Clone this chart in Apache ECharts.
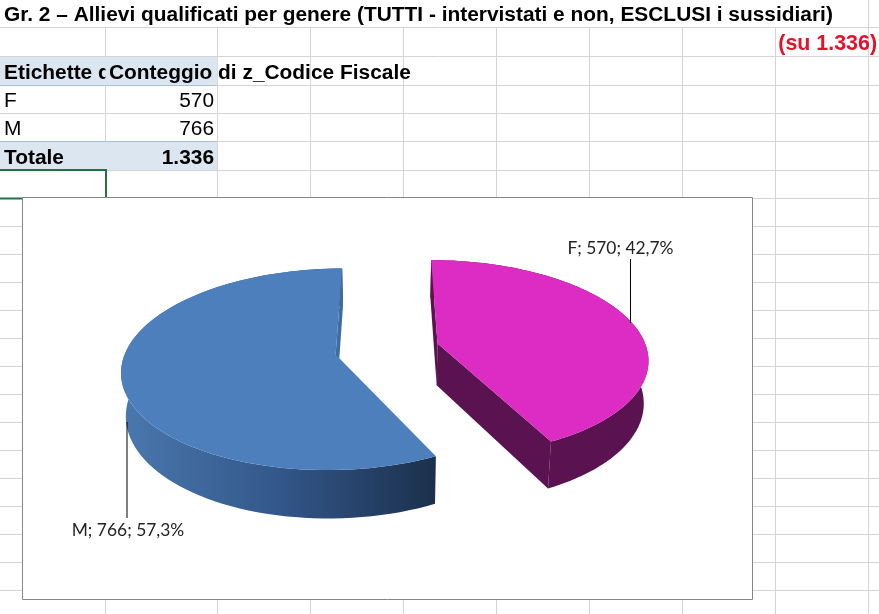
<!DOCTYPE html>
<html><head><meta charset="utf-8">
<script src="https://cdn.jsdelivr.net/npm/echarts@6/dist/echarts.min.js"></script>
<style>html,body{margin:0;padding:0;background:#fff}#c{width:879px;height:614px}</style>
</head><body><div id="c"></div>
<script>
var categories = ['F', 'M'];
var counts = [570, 766];
var percentLabels = ['42,7%', '57,3%'];
var totalLabel = '1.336';
var titleText = 'Gr. 2 – Allievi qualificati per genere (TUTTI - intervistati e non, ESCLUSI i sussidiari)';
var noteText = '(su 1.336)';
var headerA = 'Etichette di riga';
var headerB = 'Conteggio di z_Codice Fiscale';
var totalName = 'Totale';

var total = counts.reduce(function (a, b) { return a + b; }, 0);
var chart = echarts.init(document.getElementById('c'), null, { renderer: 'canvas', width: 879, height: 614 });

/* perspective of the pie plane */
var P = { xc: 387, yc: 349, a: 209.3, b: 97, p: 0.145, e: 0.25, sx: 0.982, sy: 1.0526, d: 42 };
function project(u, v, bottom) {
  var w = 1 + P.p * v;
  return bottom
    ? [P.xc + P.a * P.sx * u / w, P.yc + P.d - P.b * P.sy * v / w]
    : [P.xc + P.a * u / w, P.yc - P.b * v / w];
}
function unit(deg) { var r = deg * Math.PI / 180; return [Math.sin(r), Math.cos(r)]; }

var sliceStyle = {
  F: { top: '#DC2CC4', wall: '#5A1250', edge: '#5A1250' },
  M: { top: '#4C7FBB', edge: '#3E6CA3',
       wall: new echarts.graphic.LinearGradient(0, 0, 1, 0, [
         { offset: 0, color: '#4A78AE' }, { offset: 0.5, color: '#33578A' }, { offset: 1, color: '#1B304C' }]) }
};
var labelPlace = {
  F: { x: 620.5, y: 248, line: [630.5, 259, 630.5, 323] },
  M: { x: 128, y: 530, line: [127, 422, 127, 518] }
};
var order = ['M', 'F'];

function renderSlice(params, api) {
  var i = params.dataIndex;
  var name = order[i];
  var idx = categories.indexOf(name);
  var from = 0, span = 360 * api.value(0) / total;
  if (name === 'M') from = 360 * counts[categories.indexOf('F')] / total;
  var mid = unit(from + span / 2);
  var ou = P.e * mid[0], ov = P.e * mid[1];
  var top = [], bot = [], n = 90;
  for (var k = 0; k <= n; k++) {
    var d = unit(from + span * k / n);
    top.push(project(ou + d[0], ov + d[1], false));
    bot.push(project(ou + d[0], ov + d[1], true));
  }
  var at = project(ou, ov, false), ab = project(ou, ov, true);
  var st = sliceStyle[name], kids = [];
  var pl = labelPlace[name];
  kids.push({ type: 'polygon', shape: { points: top.concat(bot.slice().reverse()) }, style: { fill: st.wall } });
  if (name === 'F') {
    kids.push({ type: 'polygon', shape: { points: [at, top[n], bot[n], ab] }, style: { fill: st.wall } });
    kids.push({ type: 'polygon', shape: { points: [at, top[0], bot[0], ab] }, style: { fill: st.wall } });
  } else {
    kids.push({ type: 'polygon', shape: { points: [at, top[n], bot[n], ab] }, style: { fill: st.edge } });
  }
  kids.push({ type: 'polygon', shape: { points: [at].concat(top) }, style: { fill: st.top } });
  kids.push({ type: 'line', shape: { x1: pl.line[0], y1: pl.line[1], x2: pl.line[2], y2: pl.line[3] }, style: { stroke: '#000', lineWidth: 1 } });
  kids.push({ type: 'text', style: { text: name + '; ' + api.value(0) + '; ' + percentLabels[idx], x: pl.x, y: pl.y,
    font: '17.4px Lato', fill: '#222', textAlign: 'center', textVerticalAlign: 'middle' } });
  return { type: 'group', children: kids };
}

/* spreadsheet behind the chart */
var gridColor = '#D4D4D4';
var colX = [105.5, 217.5, 310.5, 403.5, 496.5, 589.5, 682.5, 775.5, 868.5];
var rowY = [27.5, 56.5, 85.5, 113.5, 141.5, 170.5, 198.5, 226.5, 254.5, 282.5, 310.5, 338.5, 366.5, 394.5, 422.5, 450.5, 478.5, 506.5, 534.5, 562.5, 590.5];
var g = [];
function ln(x1, y1, x2, y2, c, w, z) { g.push({ type: 'line', z: z || 1, silent: true, shape: { x1: x1, y1: y1, x2: x2, y2: y2 }, style: { stroke: c, lineWidth: w || 1 } }); }
function rc(x, y, w, h, c, z, stroke) { g.push({ type: 'rect', z: z, silent: true, shape: { x: x, y: y, width: w, height: h }, style: { fill: c, stroke: stroke || null, lineWidth: 1 } }); }
function tx(s, x, y, font, fill, align, z) { g.push({ type: 'text', z: z || 6, silent: true, style: { text: s, x: x, y: y, font: font, fill: fill, textAlign: align || 'left', textVerticalAlign: 'middle' } }); }

colX.forEach(function (x) { ln(x, x === 868.5 ? 0 : 27.5, x, 614, gridColor); });
rowY.forEach(function (y) { ln(0, y, 879, y, gridColor); });
rc(0, 57, 217, 28, '#DCE6F1', 2);
rc(0, 142, 217, 28, '#DCE6F1', 2);
ln(0, 85.5, 217, 85.5, '#A9C0DC', 1, 3);
ln(0, 141.5, 217, 141.5, '#A9C0DC', 1, 3);
var bold = 'bold 20.9px "Liberation Sans"', reg = '20.9px "Liberation Sans"';
tx(headerA, 4, 73, bold, '#000', 'left', 4);
rc(105.5, 57, 112, 28, '#DCE6F1', 5);
tx(headerB, 109, 73, bold, '#000', 'left', 6);
categories.forEach(function (c, i) {
  tx(c, 4, 101 + 28 * i, reg, '#000');
  tx(String(counts[i]), 214, 101 + 28 * i, reg, '#000', 'right');
});
tx(totalName, 4, 158, bold, '#000');
tx(totalLabel, 214, 158, bold, '#000', 'right');
tx(titleText, 4, 15, bold, '#000');
tx(noteText, 877, 44, 'bold 21.4px "Liberation Sans"', '#E5112B', 'right');
ln(0, 170, 106.5, 170, '#217346', 2, 7);
ln(106, 169, 106, 197, '#217346', 2, 7);
ln(0, 198.5, 22, 198.5, '#217346', 2, 7);
rc(22.5, 197.5, 730, 402, '#fff', 8, '#868686');

chart.setOption({
  animation: false,
  backgroundColor: '#fff',
  graphic: { elements: g },
  series: [{
    type: 'custom', coordinateSystem: 'none', z: 20, silent: true, clip: false,
    renderItem: renderSlice,
    data: order.map(function (n) { return { name: n, value: [counts[categories.indexOf(n)]] }; })
  }]
});
</script></body></html>
